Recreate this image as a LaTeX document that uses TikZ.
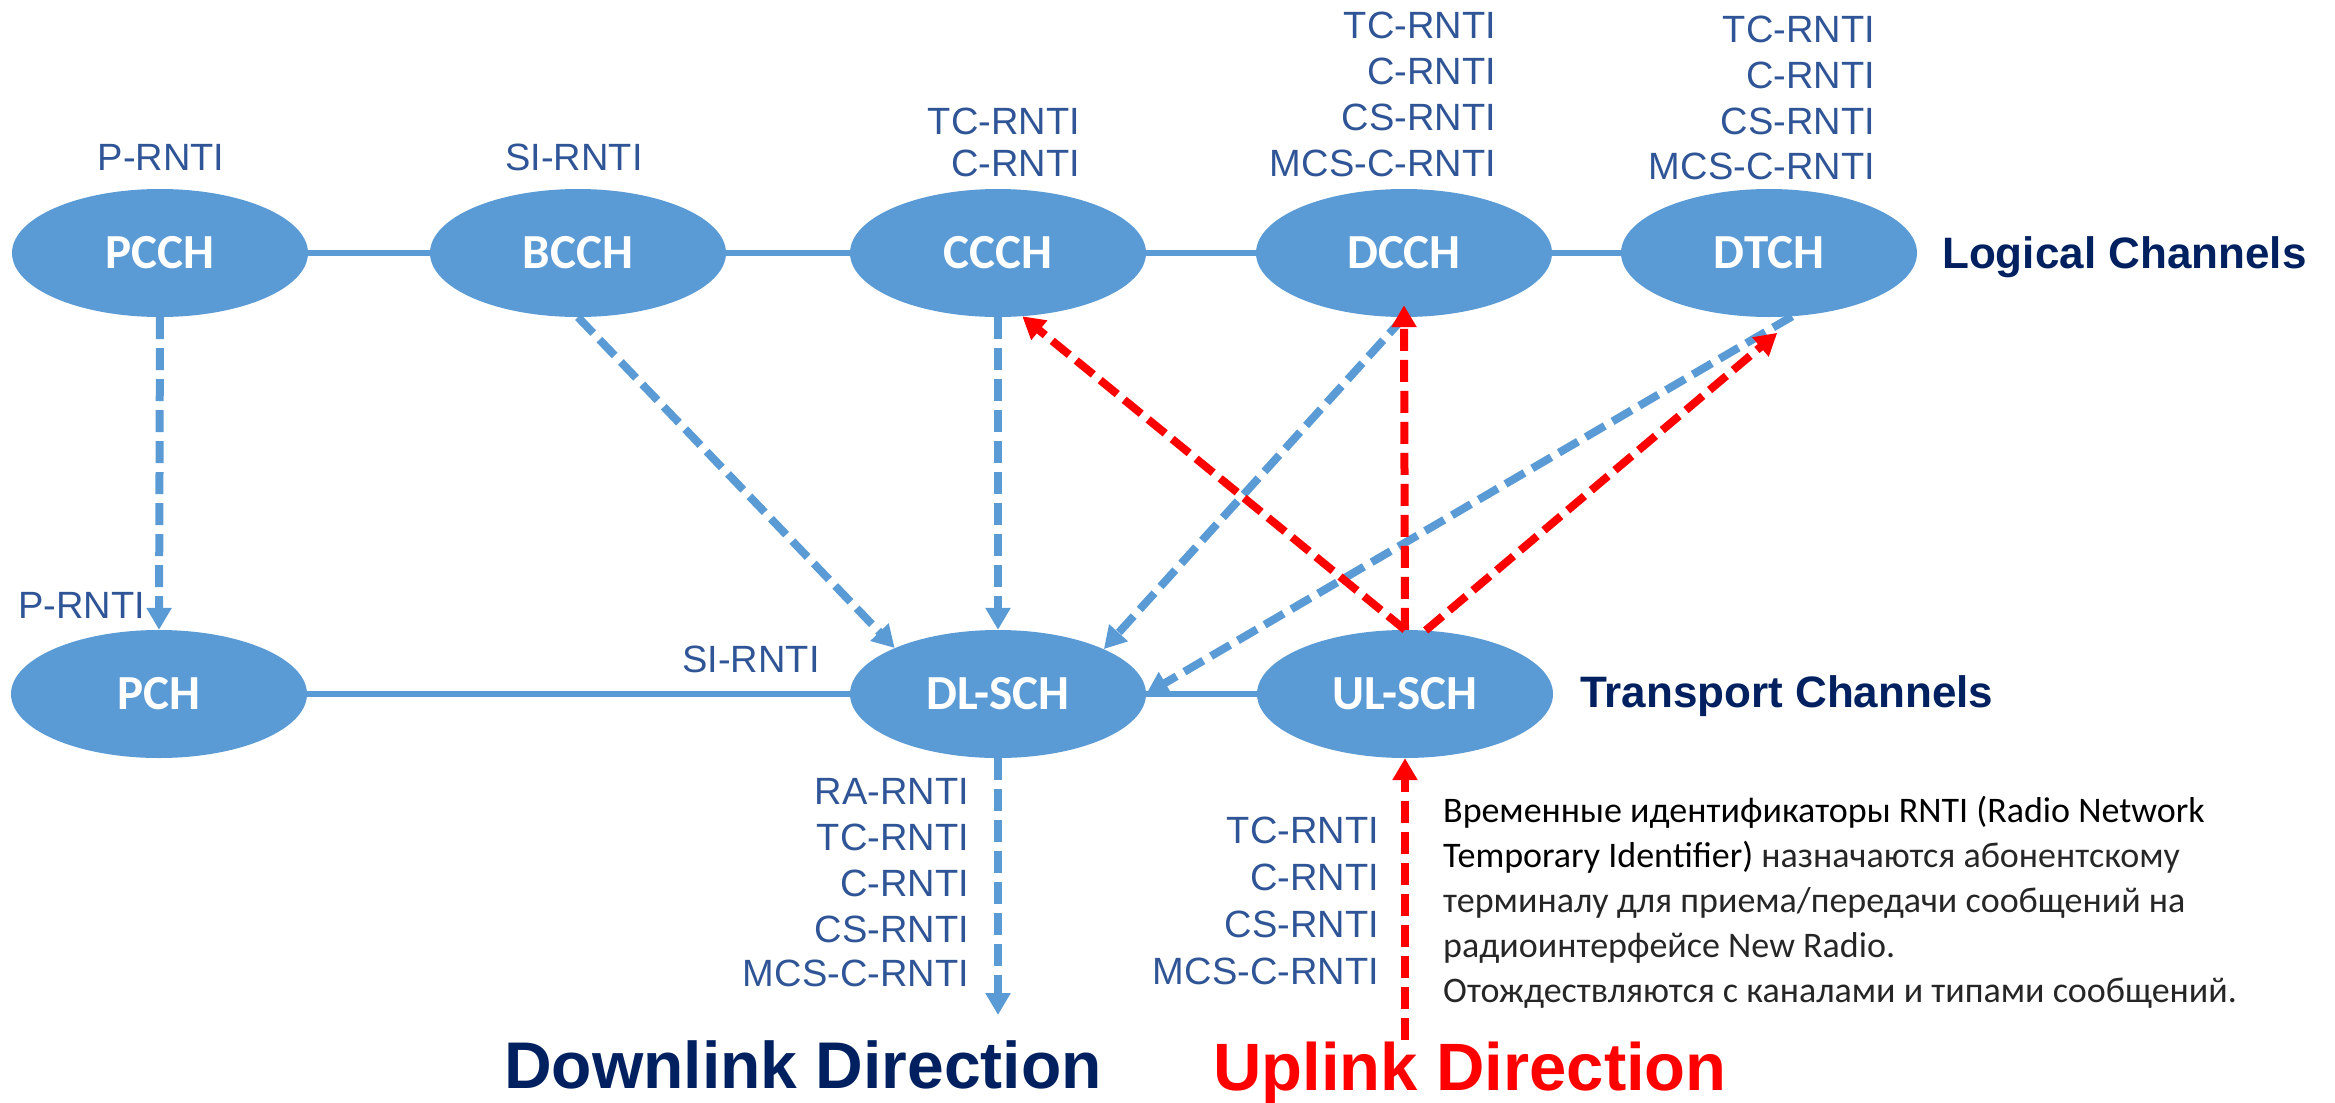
\documentclass[tikz,border=0pt]{standalone}
\usepackage{fontspec}
\setmainfont{Liberation Sans}
\newfontfamily\calib{Carlito}
\usetikzlibrary{shapes.geometric,arrows.meta,calc}
\definecolor{chblue}{HTML}{5B9BD5}
\definecolor{lblblue}{HTML}{2F5597}
\definecolor{navy}{HTML}{002060}
\definecolor{ured}{HTML}{FF0000}
\definecolor{lighttxt}{HTML}{262626}
\begin{document}
\begin{tikzpicture}[x=1pt,y=-1pt,
 chan/.style={ellipse, fill=chblue, minimum width=296pt, minimum height=128pt, inner sep=0pt, text=white, font=\calib\bfseries\fontsize{49}{58}\selectfont},
 lbl/.style={text=lblblue, font=\fontsize{38}{46}\selectfont, inner sep=0pt},
 big/.style={font=\bfseries\fontsize{44}{52}\selectfont, text=navy, inner sep=0pt, anchor=base west},
 dirtxt/.style={font=\bfseries\fontsize{66}{78}\selectfont, inner sep=0pt, anchor=base},
 ru/.style={font=\calib\fontsize{36}{45}\selectfont, inner sep=0pt, anchor=base west},
 hline/.style={chblue, line width=5.5pt},
 dl/.style={chblue, line width=8pt, dash pattern=on 22pt off 9pt, -{Triangle[width=24pt,length=22pt]}},
 ul/.style={ured, line width=8pt, dash pattern=on 22pt off 9pt, -{Triangle[width=24pt,length=22pt]}},
]
\useasboundingbox (0,0) rectangle (2335,1103);

% logical channels
\node[chan] (pcch) at (160,253) {PCCH};
\node[chan] (bcch) at (578,253) {BCCH};
\node[chan] (ccch) at (998,253) {CCCH};
\node[chan] (dcch) at (1404,253) {DCCH};
\node[chan] (dtch) at (1769,253) {DTCH};
% transport channels
\node[chan] (pch) at (159,694) {PCH};
\node[chan] (dlsch) at (998,694) {DL-SCH};
\node[chan] (ulsch) at (1405,694) {UL-SCH};

% solid links
\draw[hline] (pcch) -- (bcch);
\draw[hline] (bcch) -- (ccch);
\draw[hline] (ccch) -- (dcch);
\draw[hline] (dcch) -- (dtch);
\draw[hline] (pch) -- (dlsch);
\draw[hline] (dlsch) -- (ulsch);

% downlink mappings
\coordinate (dlend) at (998,1015);
\draw[dl] (pcch.south) -- (pch.north);
\draw[dl] (bcch.south) -- (dlsch.156);
\draw[dl] (ccch.south) -- (dlsch.north);
\draw[dl] (dcch.south) -- (dlsch.23);
\draw[dl] (dtch.-70) -- (dlsch.east);
\draw[dl] (dlsch.south) -- (dlend);

% uplink mappings
\coordinate (ulstart) at (1405,1040);
\draw[ul] (ulsch.north) -- (ccch.-69);
\draw[ul, shorten >=-12pt] (ulsch.north) -- (dcch.south);
\draw[ul, shorten >=26pt] (ulsch.72) -- (dtch.-66);
\draw[ul] (ulstart) -- (ulsch.south);

% RNTI labels
\node[lbl, anchor=base] (l1) at (161,170) {P-RNTI};
\node[lbl, anchor=base] (l2) at (574,170) {SI-RNTI};
\node[lbl, anchor=base east] (l3) at (1080,134) {TC-RNTI};
\node[lbl, anchor=base east] (l4) at (1080,176) {C-RNTI};
\node[lbl, anchor=base east] (l5) at (1496,38) {TC-RNTI};
\node[lbl, anchor=base east] (l6) at (1496,84) {C-RNTI};
\node[lbl, anchor=base east] (l7) at (1496,130) {CS-RNTI};
\node[lbl, anchor=base east] (l8) at (1496,176) {MCS-C-RNTI};
\node[lbl, anchor=base east] (l9) at (1875,42) {TC-RNTI};
\node[lbl, anchor=base east] (l10) at (1875,88) {C-RNTI};
\node[lbl, anchor=base east] (l11) at (1875,134) {CS-RNTI};
\node[lbl, anchor=base east] (l12) at (1875,179) {MCS-C-RNTI};
\node[lbl, anchor=base west] (l13) at (18,618) {P-RNTI};
\node[lbl, anchor=base] (l14) at (751,672) {SI-RNTI};
\node[lbl, anchor=base east] (l15) at (969,804) {RA-RNTI};
\node[lbl, anchor=base east] (l16) at (969,850) {TC-RNTI};
\node[lbl, anchor=base east] (l17) at (969,896) {C-RNTI};
\node[lbl, anchor=base east] (l18) at (969,942) {CS-RNTI};
\node[lbl, anchor=base east] (l19) at (969,986) {MCS-C-RNTI};
\node[lbl, anchor=base east] (l20) at (1379,843) {TC-RNTI};
\node[lbl, anchor=base east] (l21) at (1379,890) {C-RNTI};
\node[lbl, anchor=base east] (l22) at (1379,937) {CS-RNTI};
\node[lbl, anchor=base east] (l23) at (1379,984) {MCS-C-RNTI};

% headings
\node[big] (logt) at (1942,268) {Logical Channels};
\node[big] (trt) at (1580,707) {Transport Channels};
\node[dirtxt, text=navy] (dld) at (803,1088) {Downlink Direction};
\node[dirtxt, text=ured, font=\bfseries\fontsize{67}{78}\selectfont] (uld) at (1470,1090) {Uplink Direction};

% description
\node[ru, text=black] (r1) at (1443,822) {Временные идентификаторы RNTI (Radio Network};
\node[ru, text=black] (r2) at (1443,867) {Temporary Identifier)\ \textcolor{lighttxt}{назначаются абонентскому}};
\node[ru, text=lighttxt] (r3) at (1443,912) {терминалу для приема/передачи сообщений на};
\node[ru, text=lighttxt] (r4) at (1443,957) {радиоинтерфейсе New Radio.};
\node[ru, text=lighttxt] (r5) at (1443,1002) {Отождествляются с каналами и типами сообщений.};
\end{tikzpicture}
\end{document}
